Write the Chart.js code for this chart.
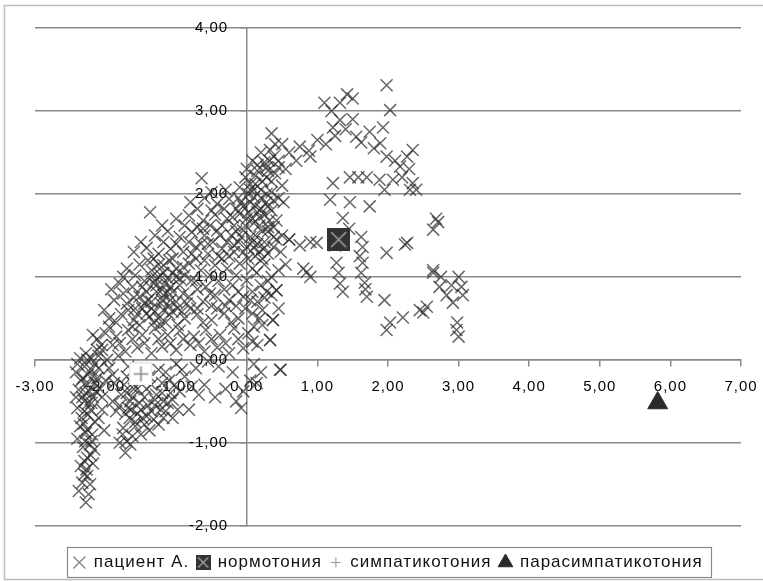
<!DOCTYPE html>
<html>
<head>
<meta charset="utf-8">
<script src="https://cdn.jsdelivr.net/npm/chart.js@4.4.1/dist/chart.umd.min.js"></script>
<style>
  html, body { margin: 0; background: #fff; }
</style>
</head>
<body>
<canvas id="chart" width="763" height="581"></canvas>
<script>
/* ===== DATA ===== */
const seriesNames = ["пациент А.", "нормотония", "симпатикотония", "парасимпатикотония"];

// пациент А., [x, y]
const patient = [
  // lower tail
  [-2.38,-1.58],[-2.28,-1.72],[-2.22,-1.5],[-2.3,-1.38],[-2.18,-1.25],[-2.26,-1.18],[-2.32,-1.05],
  [-2.2,-0.98],[-2.28,-0.88],[-2.36,-0.8],[-2.15,-0.75],[-2.25,-0.66],[-2.4,-0.58],[-2.3,-0.5],
  [-2.18,-0.45],[-2.38,-0.36],[-2.26,-0.3],[-2.12,-0.22],[-2.42,-0.15],[-2.3,-0.08],[-2.2,0.02],
  [-2.05,-0.6],[-2.08,-0.35],[-2.1,-0.1],[-2.35,-1.28],[-2.24,-1.62],[-2.16,-1.08],[-2.34,-0.7],
  [-2.02,-0.85],[-2.4,-0.95],
  [-2.33,-1.48],[-2.27,-1.32],[-2.21,-1.15],[-2.29,-0.98],[-2.19,-0.9],[-2.31,-0.77],[-2.21,-0.6],
  [-2.33,-0.45],[-2.23,-0.38],[-2.15,-0.28],[-2.35,-0.25],[-2.25,-0.18],[-2.4,-0.05],[-2.15,-0.05],
  [-2.28,0.08],[-2.1,0.05],[-2.05,-0.45],[-2.1,-0.7],
  [-2.24,-0.52],[-2.14,-0.38],[-2.32,-0.22],[-2.2,-0.12],[-2.06,0.18],[-2.18,0.3],[-1.98,0.0],
  [-2.0,-0.25],[-2.42,-0.45],[-2.36,0.02],
  [-2.26,-1.4],[-2.3,-1.22],[-2.22,-1.02],[-2.26,-0.84],[-2.3,-0.62],[-2.2,-0.52],[-2.28,-0.4],
  [-2.18,-0.2],[-2.26,0.0],[-2.12,0.12],
  // second column
  [-1.72,-1.12],[-1.8,-1.0],[-1.62,-0.92],[-1.75,-0.82],[-1.58,-0.75],[-1.85,-0.62],[-1.68,-0.58],
  [-1.52,-0.52],[-1.78,-0.42],[-1.6,-0.35],[-1.88,-0.28],[-1.7,-0.2],[-1.95,-0.1],[-1.82,0.05],
  [-1.65,-1.02],[-1.9,-0.5],[-1.55,-0.65],
  [-1.76,-0.9],[-1.66,-0.7],[-1.8,-0.55],[-1.62,-0.45],[-1.74,-0.3],[-1.58,-0.22],[-1.9,-0.18],
  [-1.68,-0.08],[-1.5,-0.9],[-1.55,-0.35],
  [-1.7,-0.98],[-1.58,-0.8],[-1.45,-0.78],[-1.35,-0.62],[-1.22,-0.6],[-1.5,-0.6],[-1.65,-0.5],
  [-1.42,-0.35],[-1.2,-0.28],[-1.05,-0.7],[-0.98,-0.6],
  [-1.72,-0.65],[-1.64,-0.6],[-1.7,-0.4],[-1.62,-0.28],[-1.48,-0.7],[-1.3,-0.48],[-1.18,-0.5],
  [-1.08,-0.4],
  // below axis, middle
  [-1.38,-0.85],[-1.25,-0.78],[-1.42,-0.68],[-1.15,-0.62],[-1.3,-0.55],[-1.05,-0.48],[-1.2,-0.4],
  [-0.95,-0.38],[-1.35,-0.3],[-1.1,-0.25],[-0.88,-0.2],[-1.25,-0.12],[-1.0,-0.05],[-0.82,-0.6],
  [-1.45,-0.45],[-0.72,-0.1],
  [-1.32,-0.72],[-1.18,-0.7],[-1.4,-0.55],[-1.12,-0.52],[-1.28,-0.42],[-1.02,-0.3],[-1.15,-0.15],
  [-0.92,-0.12],[-0.78,-0.32],[-1.38,-0.2],[-0.68,-0.42],
  [-0.6,-0.3],[-0.45,-0.45],[-0.3,-0.35],[-0.15,-0.5],[-0.05,-0.38],[0.05,-0.25],[-0.2,-0.15],
  [-0.4,-0.08],[0.1,-0.05],[0.2,-0.15],[0.48,-0.12],[0.14,-0.28],[-0.08,-0.58],[-0.55,-0.02],
  // main cloud
  [-2.05,0.12],[-1.9,0.18],[-1.72,0.1],[-1.55,0.15],[-1.35,0.08],[-1.2,0.16],[-1.0,0.12],[-0.8,0.18],
  [-0.6,0.1],[-0.42,0.15],[-0.25,0.08],[-0.05,0.14],[0.15,0.18],[0.33,0.24],
  [-2.0,0.32],[-1.85,0.28],[-1.68,0.36],[-1.48,0.3],[-1.3,0.38],[-1.12,0.3],[-0.95,0.35],[-0.75,0.28],
  [-0.58,0.36],[-0.38,0.3],[-0.18,0.38],[0.02,0.32],[0.22,0.42],
  [-1.95,0.5],[-1.78,0.55],[-1.6,0.48],[-1.42,0.56],[-1.25,0.5],[-1.05,0.58],[-0.88,0.5],[-0.7,0.55],
  [-0.5,0.48],[-0.32,0.56],[-0.12,0.5],[0.08,0.56],[0.37,0.48],[-1.15,0.45],[-1.35,0.62],
  [-1.88,0.72],[-1.7,0.68],[-1.52,0.76],[-1.35,0.7],[-1.18,0.78],[-1.0,0.7],[-0.82,0.76],[-0.62,0.7],
  [-0.45,0.78],[-0.25,0.72],[-0.05,0.76],[0.15,0.7],[0.35,0.78],[-1.1,0.65],[-1.28,0.82],
  [-1.8,0.92],[-1.62,0.88],[-1.45,0.95],[-1.28,0.9],[-1.12,0.98],[-0.95,0.9],[-0.78,0.96],[-0.58,0.88],
  [-0.4,0.95],[-0.2,0.9],[0.0,0.96],[0.2,0.9],[0.42,0.84],[-1.2,0.85],[-1.05,0.82],[-1.35,1.0],
  [-1.7,1.1],[-1.52,1.15],[-1.35,1.08],[-1.18,1.14],[-1.0,1.1],[-0.82,1.16],[-0.65,1.08],[-0.45,1.14],
  [-0.28,1.1],[-0.1,1.16],[0.08,1.1],[0.25,1.15],[0.45,1.08],[0.14,1.05],
  [-1.6,1.3],[-1.42,1.35],[-1.25,1.28],[-1.08,1.34],[-0.9,1.3],[-0.72,1.36],[-0.55,1.28],[-0.35,1.34],
  [-0.18,1.3],[0.0,1.36],[0.18,1.3],[0.38,1.36],[0.6,1.45],[0.75,1.38],[0.9,1.42],[0.99,1.41],
  [-1.3,1.5],[-1.12,1.55],[-0.95,1.48],[-0.78,1.54],[-0.6,1.5],[-0.42,1.56],[-0.22,1.5],[-0.05,1.56],
  [0.12,1.5],[0.3,1.55],[0.5,1.5],
  [-1.37,1.78],[-1.0,1.7],[-0.82,1.74],[-0.62,1.68],[-0.45,1.75],[-0.28,1.7],[-0.1,1.76],[0.08,1.7],
  [0.25,1.75],[0.42,1.68],
  [-0.8,1.9],[-0.6,1.95],[-0.42,1.88],[-0.25,1.94],[-0.08,1.9],[0.1,1.96],[0.28,1.9],[0.45,1.95],
  [-0.64,2.19],[-0.1,2.08],[0.05,2.12],[0.2,2.05],[0.35,2.15],[0.5,2.1],
  [0.0,2.3],[0.15,2.35],[0.3,2.28],[0.45,2.32],[0.2,2.5],
  [0.05,2.05],[0.12,1.85],[0.28,2.0],[0.38,1.6],[0.48,1.3],[0.52,1.9],[0.3,0.95],[0.22,0.6],
  [0.45,0.62],[0.55,1.15],[0.1,0.4],[-0.02,1.62],
  // main cloud, second layer
  [-2.12,0.25],[-1.95,0.4],[-1.8,0.2],[-1.62,0.25],[-1.45,0.2],[-1.25,0.25],[-1.08,0.2],[-0.9,0.25],
  [-0.68,0.2],[-0.5,0.25],[-0.3,0.2],[-0.12,0.25],[0.08,0.22],
  [-2.02,0.6],[-1.85,0.45],[-1.68,0.6],[-1.52,0.42],[-1.32,0.45],[-1.18,0.6],[-0.98,0.42],[-0.8,0.62],
  [-0.62,0.45],[-0.42,0.62],[-0.22,0.45],[-0.02,0.62],[0.18,0.5],
  [-1.92,0.85],[-1.75,0.8],[-1.58,0.62],[-1.42,0.82],[-1.22,0.68],[-1.08,0.88],[-0.9,0.8],[-0.7,0.85],
  [-0.52,0.8],[-0.32,0.85],[-0.12,0.82],[0.08,0.82],[0.28,0.82],
  [-1.75,1.0],[-1.58,1.02],[-1.4,1.2],[-1.22,1.02],[-1.05,1.22],[-0.88,1.02],[-0.72,1.22],[-0.52,1.02],
  [-0.35,1.22],[-0.15,1.02],[0.02,1.22],[0.22,1.22],[0.35,1.0],
  [-1.5,1.42],[-1.32,1.22],[-1.18,1.42],[-1.0,1.4],[-0.82,1.42],[-0.65,1.4],[-0.48,1.42],[-0.28,1.42],
  [-0.12,1.42],[0.08,1.42],[0.25,1.42],[0.42,1.45],
  [-1.2,1.62],[-0.88,1.62],[-0.7,1.6],[-0.52,1.62],[-0.35,1.62],[-0.18,1.62],[0.02,1.78],[0.18,1.62],
  [0.35,1.8],[-0.7,1.82],[-0.5,1.8],[-0.32,1.82],[-0.15,1.82],[0.05,1.9],[0.2,1.82],[0.38,1.92],
  [-0.5,2.02],[-0.3,2.05],[-0.02,2.2],[0.12,2.22],[0.28,2.2],[0.4,2.25],[0.08,2.4],[0.25,2.38],
  [0.4,2.6],
  // main cloud, third layer
  [-1.48,0.62],[-1.38,0.52],[-1.22,0.42],[-1.1,0.55],[-0.98,0.62],[-0.85,0.68],[-1.32,0.92],
  [-1.15,0.92],[-1.0,1.0],[-0.9,1.12],[-1.1,1.2],[-1.25,1.15],[-1.4,0.72],[-0.72,0.95],
  [-0.25,1.25],[-0.05,1.3],[0.12,1.25],[0.3,1.28],[-0.15,1.55],[0.05,1.48],[0.22,1.55],[0.38,1.48],
  [-0.2,1.72],[0.0,1.7],[0.18,1.72],[0.32,1.68],[-0.12,1.95],[0.02,2.0],[0.2,1.95],[0.35,2.02],
  [0.12,2.12],[0.28,2.32],[0.38,2.45],
  [-0.6,1.2],[-0.4,1.25],[-0.78,1.28],[-0.55,1.4],[-0.38,1.5],[-0.62,1.58],
  // main cloud, densest parts
  [-1.62,0.4],[-1.55,0.55],[-1.45,0.68],[-1.3,0.58],[-1.2,0.72],[-1.12,0.82],[-1.28,0.98],
  [-1.18,1.05],[-1.05,1.05],[-0.95,0.98],[-1.08,0.72],[-0.92,0.58],[-1.48,0.88],[-1.6,0.75],
  [-0.18,1.38],[0.1,1.35],[0.25,1.35],[-0.08,1.48],[0.15,1.4],[0.3,1.6],[0.1,1.65],[-0.05,1.85],
  [0.15,1.78],[0.3,1.85],[0.1,2.05],[0.22,2.15],[0.32,2.4],[0.15,2.28],
  [-0.3,0.65],[-0.5,0.65],[-0.7,0.62],[-0.15,0.65],[0.05,0.72],[0.25,0.75],
  // upper arc
  [1.98,3.31],[2.03,3.01],[1.42,3.2],[1.32,3.1],[1.1,3.1],[0.35,2.73],[0.33,2.53],[0.75,2.57],
  [1.0,2.65],[1.22,2.8],[1.32,2.89],[1.55,2.69],[1.74,2.75],[1.93,2.8],[1.89,2.61],[1.98,2.45],
  [2.17,2.33],[2.27,2.45],[2.35,2.53],[2.35,2.13],[2.2,2.2],
  [1.46,2.2],[1.7,2.2],[1.88,2.17],[2.07,2.17],[1.22,2.13],[1.18,1.93],[1.46,1.9],[1.74,1.85],
  [1.36,1.71],[0.6,2.5],[0.88,2.52],[1.12,2.6],[1.4,2.78],[1.5,2.9],[1.62,2.62],[1.8,2.55],
  [2.1,2.4],[1.2,3.0],[1.25,2.7],[0.5,2.6],[0.45,2.4],[1.58,2.2],[1.95,2.05],[2.3,2.3],[2.4,2.05],
  [0.7,2.4],[0.55,2.3],[0.9,2.45],[1.5,3.15],
  // middle, lower right
  [0.85,1.06],[1.36,0.82],[1.27,1.17],[1.64,1.36],[1.64,1.17],[1.67,0.93],[1.7,0.76],[1.95,0.72],
  [1.98,1.29],[2.27,1.41],[1.98,0.36],[2.03,0.45],[2.21,0.51],[2.55,0.64],[2.64,1.05],[0.37,0.48],
  [0.33,0.24],[0.47,-0.12],[0.42,0.84],[0.6,1.45],
  [1.3,1.05],[1.32,0.92],[1.6,1.25],[1.62,1.05],[1.68,0.85],[1.62,1.48],[0.8,1.1],[0.9,1.0],
  [1.45,1.58],[1.25,1.38],
  // right group
  [2.31,2.05],[2.71,1.66],[2.64,1.57],[2.24,1.39],[2.64,1.08],[3.0,1.0],[2.73,0.88],[3.04,0.88],
  [2.83,0.78],[3.06,0.78],[2.92,0.69],[2.5,0.57],[2.97,0.36],[3.0,0.28],[2.68,1.7],[2.75,1.0],
  [2.9,0.9],[2.45,0.6],[2.98,0.45]
];

const normotonia = [[1.30, 1.45]];
const sympathicotonia = [[-1.50, -0.17]];
const parasympathicotonia = [[5.82, -0.52]];

const FONT = "'Liberation Sans', Arial, sans-serif";
const fmt = v => Number(v).toFixed(2).replace(".", ",");
const toXY = arr => arr.map(([x, y]) => ({ x, y }));

/* ===== MARKERS ===== */
function squareMarker(size, fill, line, kind) {
  const c = document.createElement("canvas");
  c.width = c.height = size;
  const g = c.getContext("2d");
  if (fill) {
    g.fillStyle = fill;
    g.fillRect(0, 0, size, size);
  }
  g.strokeStyle = line;
  g.lineWidth = size > 16 ? 1.6 : 1.2;
  const a = size > 16 ? 4 : 2.5, b = size - a;
  g.beginPath();
  if (kind === "x") {
    g.moveTo(a, a); g.lineTo(b, b);
    g.moveTo(b, a); g.lineTo(a, b);
  } else {
    g.moveTo(size / 2, a); g.lineTo(size / 2, b);
    g.moveTo(a, size / 2); g.lineTo(b, size / 2);
  }
  g.stroke();
  if (fill === "#fff") {
    g.strokeStyle = "#e4e4e4";
    g.lineWidth = 1;
    g.strokeRect(0.5, 0.5, size - 1, size - 1);
  }
  return c;
}

const normIcon = squareMarker(23, "#333", "#9c9c9c", "x");
const sympIcon = squareMarker(23, "#fff", "#8a8a8a", "plus");
const legendIcons = {
  1: squareMarker(15, "#333", "#aaa", "x"),
  2: squareMarker(15, null, "#999", "plus"),
};

/* ===== TEXT SPACING (the original is a bit stretched) ===== */
const spacingPlugin = {
  id: "spacing",
  beforeUpdate(chart) { chart.ctx.letterSpacing = "1px"; },
  beforeDraw(chart) { chart.ctx.letterSpacing = "1px"; },
};

/* ===== FRAME + LEGEND BOX ===== */
const framePlugin = {
  id: "frame",
  afterDraw(chart) {
    const ctx = chart.ctx;
    ctx.save();
    ctx.strokeStyle = "#bdbdbd";
    ctx.lineWidth = 1.5;
    ctx.strokeRect(4.5, 5.5, 800, 574);
    const boxes = chart.legend.legendHitBoxes;
    if (boxes && boxes.length) {
      const l = Math.min(...boxes.map(b => b.left)) - 6;
      const r = Math.max(...boxes.map(b => b.left + b.width)) + 9;
      const t = Math.min(...boxes.map(b => b.top)) - 7;
      const bt = Math.max(...boxes.map(b => b.top + b.height)) + 6;
      ctx.strokeStyle = "#8a8a8a";
      ctx.lineWidth = 1.2;
      ctx.strokeRect(Math.round(l) + 0.5, Math.round(t) + 0.5, Math.round(r - l), Math.round(bt - t));
    }
    ctx.restore();
  }
};

// axes sit inside the plot: their edge labels should not push the plot area in
const noPadX = s => { s.paddingLeft = 0; s.paddingRight = 0; };
const noPadY = s => { s.paddingTop = 0; s.paddingBottom = 0; };

/* ===== CHART ===== */
new Chart(document.getElementById("chart"), {
  type: "scatter",
  data: {
    datasets: [
      {
        label: seriesNames[0],
        data: toXY(patient),
        pointStyle: "crossRot",
        pointRadius: 8.5,
        borderColor: "rgba(45,45,45,0.72)",
        backgroundColor: "rgba(45,45,45,0.72)",
        borderWidth: 1.5,
        order: 5,
      },
      {
        label: seriesNames[1],
        data: toXY(normotonia),
        pointStyle: normIcon,
        pointRadius: 12,
        order: 1,
      },
      {
        label: seriesNames[2],
        data: toXY(sympathicotonia),
        pointStyle: sympIcon,
        pointRadius: 12,
        order: 1,
      },
      {
        label: seriesNames[3],
        data: toXY(parasympathicotonia),
        pointStyle: "triangle",
        pointRadius: 11.5,
        backgroundColor: "#2b2b2b",
        borderColor: "#2b2b2b",
        borderWidth: 1,
        order: 1,
      },
    ],
  },
  options: {
    responsive: false,
    animation: false,
    events: [],
    layout: { padding: { left: 35, right: 22, top: 28, bottom: 0 } },
    plugins: {
      tooltip: { enabled: false },
      legend: {
        position: "bottom",
        title: { display: true, text: "", font: { size: 1 }, padding: { top: 0, bottom: 19 } },
        labels: {
          usePointStyle: true,
          boxWidth: 12,
          boxHeight: 12,
          padding: 8,
          color: "#111",
          font: { family: FONT, size: 17 },
          sort: (a, b) => a.datasetIndex - b.datasetIndex,
          generateLabels(chart) {
            const items = Chart.defaults.plugins.legend.labels.generateLabels(chart);
            items.forEach(it => {
              if (it.datasetIndex === 0) {
                it.strokeStyle = "rgba(120,120,120,0.9)";
                it.lineWidth = 1.3;
              }
              if (legendIcons[it.datasetIndex]) it.pointStyle = legendIcons[it.datasetIndex];
            });
            return items;
          },
        },
      },
    },
    scales: {
      x: {
        type: "linear",
        min: -3,
        max: 7,
        position: { y: 0 },
        afterFit: noPadX,
        ticks: {
          stepSize: 1,
          callback: fmt,
          color: "#000",
          padding: 12,
          maxRotation: 0,
          autoSkip: false,
          font: { family: FONT, size: 15 },
        },
        grid: { drawOnChartArea: false, tickLength: 6, color: "#8a8a8a", lineWidth: 1.5 },
        border: { color: "#8a8a8a", width: 1.5 },
      },
      y: {
        type: "linear",
        min: -2,
        max: 4,
        position: { x: 0 },
        afterFit: noPadY,
        ticks: {
          stepSize: 1,
          // the axis sits inside the plot, so keep the labels off the line
          callback: v => fmt(v) + "\u2007\u2007",
          color: "#000",
          padding: 8,
          font: { family: FONT, size: 15 },
        },
        grid: { color: "#8a8a8a", lineWidth: 1.5, tickLength: 6 },
        border: { color: "#8a8a8a", width: 1.5 },
      },
    },
  },
  plugins: [spacingPlugin, framePlugin],
});
</script>
</body>
</html>
